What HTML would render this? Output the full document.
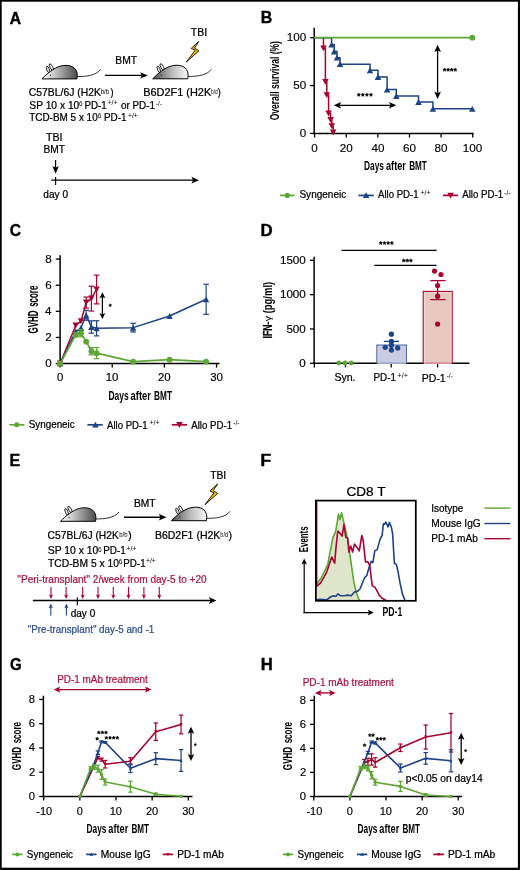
<!DOCTYPE html>
<html><head><meta charset="utf-8"><title>Figure</title>
<style>
html,body{margin:0;padding:0;background:#fff;}
svg{display:block;font-family:"Liberation Sans", sans-serif;will-change:transform;filter:blur(0.5px);}
</style></head>
<body>
<svg xmlns="http://www.w3.org/2000/svg" width="520" height="870" viewBox="0 0 520 870">
<defs>
<linearGradient id="gl" x1="0" y1="0" x2="1" y2="0"><stop offset="0" stop-color="#ffffff"/><stop offset="0.35" stop-color="#c8c8c8"/><stop offset="1" stop-color="#4a4a4a"/></linearGradient>
<linearGradient id="gd" x1="0" y1="0" x2="1" y2="0"><stop offset="0" stop-color="#505050"/><stop offset="0.55" stop-color="#bdbdbd"/><stop offset="1" stop-color="#f8f8f8"/></linearGradient>
</defs>
<rect x="0" y="0" width="520" height="870" fill="#fff"/>
<g transform="translate(41.90,78.90)">
<path d="M34.6,-2.4 C44,-2.2 54,-3.2 58.6,-9.4" fill="none" stroke="#000" stroke-width="0.8"/>
<ellipse cx="6.1" cy="-9.4" rx="1.3" ry="3.5" transform="rotate(-22 6.1 -9.4)" fill="#e4e4e4" stroke="#000" stroke-width="0.75"/>
<ellipse cx="9.5" cy="-11.7" rx="1.35" ry="3.8" transform="rotate(-29 9.5 -11.7)" fill="#eeeeee" stroke="#000" stroke-width="0.75"/>
<path d="M0,0 C5,-5 12,-11.2 19,-12.9 C26,-14.6 33,-13 34.9,-7 C35.6,-4.5 35.4,-2 35,0 Z" fill="url(#gl)" stroke="#000" stroke-width="1.0"/>
<circle cx="8.60" cy="-3.70" r="0.55" fill="#000"/>
</g>
<g transform="translate(152.70,78.80)">
<path d="M34.6,-2.4 C44,-2.2 54,-3.2 58.6,-9.4" fill="none" stroke="#000" stroke-width="0.8"/>
<ellipse cx="6.1" cy="-9.4" rx="1.3" ry="3.5" transform="rotate(-22 6.1 -9.4)" fill="#e4e4e4" stroke="#000" stroke-width="0.75"/>
<ellipse cx="9.5" cy="-11.7" rx="1.35" ry="3.8" transform="rotate(-29 9.5 -11.7)" fill="#eeeeee" stroke="#000" stroke-width="0.75"/>
<path d="M0,0 C5,-5 12,-11.2 19,-12.9 C26,-14.6 33,-13 34.9,-7 C35.6,-4.5 35.4,-2 35,0 Z" fill="url(#gd)" stroke="#000" stroke-width="1.0"/>
<circle cx="8.60" cy="-3.70" r="0.55" fill="#000"/>
</g>
<line x1="104.80" y1="75.40" x2="143.32" y2="75.40" stroke="#000" stroke-width="1.4"/>
<path d="M148.00,75.40 L140.20,72.20 L141.92,75.40 L140.20,78.60 Z" fill="#000" stroke="none" stroke-width="1.0"/>
<text x="115.25" y="63.80" font-size="10.3" stroke="#000" stroke-width="0.24" textLength="21.78" lengthAdjust="spacingAndGlyphs">BMT</text>
<text x="190.76" y="35.90" font-size="10.0" stroke="#000" stroke-width="0.24" textLength="16.30" lengthAdjust="spacingAndGlyphs">TBI</text>
<path d="M198.80,41.30 L194.60,48.00 L198.90,50.90 L186.20,62.10 L195.20,50.20 L191.20,48.40 Z" fill="#f7b800" stroke="#000" stroke-width="0.85" stroke-linejoin="miter" stroke-miterlimit="6"/>
<text x="28.87" y="96.00" font-size="10.2" stroke="#000" stroke-width="0.24" textLength="71.94" lengthAdjust="spacingAndGlyphs">C57BL/6J (H2K</text>
<text x="100.70" y="94.40" font-size="6.4" textLength="8.56" lengthAdjust="spacingAndGlyphs">b/b</text>
<text x="110.55" y="96.00" font-size="10.2" stroke="#000" stroke-width="0.24" textLength="3.01" lengthAdjust="spacingAndGlyphs">)</text>
<text x="143.20" y="96.10" font-size="10.2" stroke="#000" stroke-width="0.24" textLength="68.02" lengthAdjust="spacingAndGlyphs">B6D2F1 (H2K</text>
<text x="211.10" y="94.40" font-size="6.4" textLength="6.50" lengthAdjust="spacingAndGlyphs">b/d</text>
<text x="217.75" y="96.10" font-size="10.2" stroke="#000" stroke-width="0.24" textLength="3.01" lengthAdjust="spacingAndGlyphs">)</text>
<text x="29.34" y="108.50" font-size="10.2" stroke="#000" stroke-width="0.24" textLength="49.96" lengthAdjust="spacingAndGlyphs">SP 10 x 10</text>
<text x="79.07" y="105.70" font-size="6.4" textLength="3.62" lengthAdjust="spacingAndGlyphs">6</text>
<text x="84.50" y="108.50" font-size="10.2" stroke="#000" stroke-width="0.24" textLength="22.28" lengthAdjust="spacingAndGlyphs">PD-1</text>
<text x="107.46" y="105.30" font-size="6.4" textLength="10.19" lengthAdjust="spacingAndGlyphs">+/+</text>
<text x="120.88" y="108.50" font-size="10.2" stroke="#000" stroke-width="0.24" textLength="34.10" lengthAdjust="spacingAndGlyphs">or PD-1</text>
<text x="155.91" y="105.70" font-size="6.4" textLength="6.07" lengthAdjust="spacingAndGlyphs">-/-</text>
<text x="29.18" y="121.00" font-size="10.2" stroke="#000" stroke-width="0.24" textLength="68.51" lengthAdjust="spacingAndGlyphs">TCD-BM 5 x 10</text>
<text x="97.87" y="118.20" font-size="6.4" textLength="3.62" lengthAdjust="spacingAndGlyphs">6</text>
<text x="103.99" y="121.00" font-size="10.2" stroke="#000" stroke-width="0.24" textLength="22.49" lengthAdjust="spacingAndGlyphs">PD-1</text>
<text x="127.97" y="117.80" font-size="6.4" textLength="9.87" lengthAdjust="spacingAndGlyphs">+/+</text>
<text x="45.96" y="140.70" font-size="10.4" stroke="#000" stroke-width="0.24" textLength="16.52" lengthAdjust="spacingAndGlyphs">TBI</text>
<text x="43.46" y="153.10" font-size="10.4" stroke="#000" stroke-width="0.24" textLength="21.57" lengthAdjust="spacingAndGlyphs">BMT</text>
<line x1="55.60" y1="160.10" x2="55.60" y2="169.12" stroke="#000" stroke-width="1.15"/>
<path d="M55.60,173.80 L52.40,166.00 L55.60,167.72 L58.80,166.00 Z" fill="#000" stroke="none" stroke-width="1.0"/>
<line x1="51.30" y1="180.20" x2="194.40" y2="180.20" stroke="#000" stroke-width="1.3"/>
<path d="M198.90,180.20 L191.40,176.80 L193.05,180.20 L191.40,183.60 Z" fill="#000" stroke="none" stroke-width="1.0"/>
<line x1="55.60" y1="176.90" x2="55.60" y2="184.90" stroke="#000" stroke-width="1.15"/>
<text x="43.33" y="198.00" font-size="10.0" stroke="#000" stroke-width="0.24" textLength="24.67" lengthAdjust="spacingAndGlyphs">day 0</text>
<line x1="314.20" y1="27.80" x2="314.20" y2="134.20" stroke="#000" stroke-width="1.5"/>
<line x1="313.45" y1="133.50" x2="473.60" y2="133.50" stroke="#000" stroke-width="1.5"/>
<line x1="310.10" y1="37.70" x2="314.20" y2="37.70" stroke="#000" stroke-width="1.3"/>
<text x="286.80" y="41.45" font-size="11.0" stroke="#000" stroke-width="0.15" textLength="19.45" lengthAdjust="spacingAndGlyphs">100</text>
<line x1="310.10" y1="85.55" x2="314.20" y2="85.55" stroke="#000" stroke-width="1.3"/>
<text x="293.29" y="89.30" font-size="11.0" stroke="#000" stroke-width="0.15" textLength="12.97" lengthAdjust="spacingAndGlyphs">50</text>
<line x1="310.10" y1="133.40" x2="314.20" y2="133.40" stroke="#000" stroke-width="1.3"/>
<text x="299.77" y="137.15" font-size="11.0" stroke="#000" stroke-width="0.15" textLength="6.48" lengthAdjust="spacingAndGlyphs">0</text>
<line x1="314.60" y1="133.50" x2="314.60" y2="137.50" stroke="#000" stroke-width="1.3"/>
<text x="311.36" y="151.50" font-size="11.0" stroke="#000" stroke-width="0.15" textLength="6.48" lengthAdjust="spacingAndGlyphs">0</text>
<line x1="346.22" y1="133.50" x2="346.22" y2="137.50" stroke="#000" stroke-width="1.3"/>
<text x="339.67" y="151.50" font-size="11.0" stroke="#000" stroke-width="0.15" textLength="12.97" lengthAdjust="spacingAndGlyphs">20</text>
<line x1="377.84" y1="133.50" x2="377.84" y2="137.50" stroke="#000" stroke-width="1.3"/>
<text x="371.45" y="151.50" font-size="11.0" stroke="#000" stroke-width="0.15" textLength="12.97" lengthAdjust="spacingAndGlyphs">40</text>
<line x1="409.46" y1="133.50" x2="409.46" y2="137.50" stroke="#000" stroke-width="1.3"/>
<text x="402.91" y="151.50" font-size="11.0" stroke="#000" stroke-width="0.15" textLength="12.97" lengthAdjust="spacingAndGlyphs">60</text>
<line x1="441.08" y1="133.50" x2="441.08" y2="137.50" stroke="#000" stroke-width="1.3"/>
<text x="434.57" y="151.50" font-size="11.0" stroke="#000" stroke-width="0.15" textLength="12.97" lengthAdjust="spacingAndGlyphs">80</text>
<line x1="472.70" y1="133.50" x2="472.70" y2="137.50" stroke="#000" stroke-width="1.3"/>
<text x="462.76" y="151.50" font-size="11.0" stroke="#000" stroke-width="0.15" textLength="19.45" lengthAdjust="spacingAndGlyphs">100</text>
<text transform="translate(278.70,120.00) rotate(-90)" x="-0.35" y="0" font-size="13.0" font-weight="bold" textLength="79.28" lengthAdjust="spacingAndGlyphs">Overall survival (%)</text>
<text x="364.04" y="169.70" font-size="13.0" font-weight="bold" textLength="19.90" lengthAdjust="spacingAndGlyphs">Days</text>
<text x="385.94" y="169.70" font-size="13.0" font-weight="bold" textLength="19.97" lengthAdjust="spacingAndGlyphs">after</text>
<text x="409.14" y="169.70" font-size="13.0" font-weight="bold" textLength="17.65" lengthAdjust="spacingAndGlyphs">BMT</text>
<path d="M314.2,37.7 H331.6 V44.6 H334.2 V51.5 H337.0 V57.7 H340.0 V64.2 H370.0 V70.3 H378.0 V77.0 H387.1 V89.6 H396.3 V96.0 H418.5 V102.0 H432.9 V108.8 H472.3" fill="none" stroke="#1d4286" stroke-width="1.5"/>
<path d="M328.30,47.50 L331.60,41.70 L334.90,47.50 Z" fill="#1d4286" stroke="none" stroke-width="1.0"/>
<path d="M330.90,54.40 L334.20,48.60 L337.50,54.40 Z" fill="#1d4286" stroke="none" stroke-width="1.0"/>
<path d="M333.70,60.60 L337.00,54.80 L340.30,60.60 Z" fill="#1d4286" stroke="none" stroke-width="1.0"/>
<path d="M336.70,67.10 L340.00,61.30 L343.30,67.10 Z" fill="#1d4286" stroke="none" stroke-width="1.0"/>
<path d="M366.70,73.20 L370.00,67.40 L373.30,73.20 Z" fill="#1d4286" stroke="none" stroke-width="1.0"/>
<path d="M374.70,79.90 L378.00,74.10 L381.30,79.90 Z" fill="#1d4286" stroke="none" stroke-width="1.0"/>
<path d="M383.80,92.50 L387.10,86.70 L390.40,92.50 Z" fill="#1d4286" stroke="none" stroke-width="1.0"/>
<path d="M393.00,98.90 L396.30,93.10 L399.60,98.90 Z" fill="#1d4286" stroke="none" stroke-width="1.0"/>
<path d="M415.20,104.90 L418.50,99.10 L421.80,104.90 Z" fill="#1d4286" stroke="none" stroke-width="1.0"/>
<path d="M429.60,111.70 L432.90,105.90 L436.20,111.70 Z" fill="#1d4286" stroke="none" stroke-width="1.0"/>
<path d="M469.00,111.70 L472.30,105.90 L475.60,111.70 Z" fill="#1d4286" stroke="none" stroke-width="1.0"/>
<path d="M323.5,37.7 H323.5 V48.4 H325.4 V81.9 H326.8 V95.2 H328.6 V113.5 H330.6 V119.9 H331.8 V126.2 H333.2 V132.5" fill="none" stroke="#a9032f" stroke-width="1.5"/>
<path d="M320.20,45.50 L323.50,51.30 L326.80,45.50 Z" fill="#a9032f" stroke="none" stroke-width="1.0"/>
<path d="M322.10,79.00 L325.40,84.80 L328.70,79.00 Z" fill="#a9032f" stroke="none" stroke-width="1.0"/>
<path d="M323.50,92.30 L326.80,98.10 L330.10,92.30 Z" fill="#a9032f" stroke="none" stroke-width="1.0"/>
<path d="M325.30,110.60 L328.60,116.40 L331.90,110.60 Z" fill="#a9032f" stroke="none" stroke-width="1.0"/>
<path d="M327.30,117.00 L330.60,122.80 L333.90,117.00 Z" fill="#a9032f" stroke="none" stroke-width="1.0"/>
<path d="M328.50,123.30 L331.80,129.10 L335.10,123.30 Z" fill="#a9032f" stroke="none" stroke-width="1.0"/>
<path d="M329.90,129.60 L333.20,135.40 L336.50,129.60 Z" fill="#a9032f" stroke="none" stroke-width="1.0"/>
<line x1="314.20" y1="37.70" x2="472.30" y2="37.70" stroke="#5ea633" stroke-width="1.7"/>
<circle cx="472.30" cy="37.70" r="2.9" fill="#5ea633"/>
<line x1="338.18" y1="105.30" x2="391.92" y2="105.30" stroke="#000" stroke-width="1.3"/>
<path d="M396.30,105.30 L389.00,102.00 L390.61,105.30 L389.00,108.60 Z" fill="#000" stroke="none" stroke-width="1.0"/>
<path d="M333.80,105.30 L341.10,102.00 L339.49,105.30 L341.10,108.60 Z" fill="#000" stroke="none" stroke-width="1.0"/>
<polygon points="358.75,92.95 359.29,94.05 360.51,94.23 359.63,95.09 359.84,96.30 358.75,95.72 357.66,96.30 357.87,95.09 356.99,94.23 358.21,94.05" fill="#000" stroke="#000" stroke-width="0.45" stroke-linejoin="round"/>
<polygon points="362.82,92.95 363.36,94.05 364.58,94.23 363.70,95.09 363.90,96.30 362.82,95.72 361.73,96.30 361.94,95.09 361.06,94.23 362.27,94.05" fill="#000" stroke="#000" stroke-width="0.45" stroke-linejoin="round"/>
<polygon points="366.88,92.95 367.43,94.05 368.64,94.23 367.76,95.09 367.97,96.30 366.88,95.72 365.80,96.30 366.00,95.09 365.12,94.23 366.34,94.05" fill="#000" stroke="#000" stroke-width="0.45" stroke-linejoin="round"/>
<polygon points="370.95,92.95 371.49,94.05 372.71,94.23 371.83,95.09 372.04,96.30 370.95,95.72 369.86,96.30 370.07,95.09 369.19,94.23 370.41,94.05" fill="#000" stroke="#000" stroke-width="0.45" stroke-linejoin="round"/>
<line x1="437.60" y1="49.18" x2="437.60" y2="94.52" stroke="#000" stroke-width="1.3"/>
<path d="M437.60,98.90 L434.20,91.60 L437.60,93.21 L441.00,91.60 Z" fill="#000" stroke="none" stroke-width="1.0"/>
<path d="M437.60,44.80 L434.20,52.10 L437.60,50.49 L441.00,52.10 Z" fill="#000" stroke="none" stroke-width="1.0"/>
<polygon points="444.55,67.95 445.09,69.05 446.31,69.23 445.43,70.09 445.64,71.30 444.55,70.72 443.46,71.30 443.67,70.09 442.79,69.23 444.01,69.05" fill="#000" stroke="#000" stroke-width="0.45" stroke-linejoin="round"/>
<polygon points="448.12,67.95 448.66,69.05 449.88,69.23 449.00,70.09 449.20,71.30 448.12,70.72 447.03,71.30 447.24,70.09 446.36,69.23 447.57,69.05" fill="#000" stroke="#000" stroke-width="0.45" stroke-linejoin="round"/>
<polygon points="451.68,67.95 452.23,69.05 453.44,69.23 452.56,70.09 452.77,71.30 451.68,70.72 450.60,71.30 450.80,70.09 449.92,69.23 451.14,69.05" fill="#000" stroke="#000" stroke-width="0.45" stroke-linejoin="round"/>
<polygon points="455.25,67.95 455.79,69.05 457.01,69.23 456.13,70.09 456.34,71.30 455.25,70.72 454.16,71.30 454.37,70.09 453.49,69.23 454.71,69.05" fill="#000" stroke="#000" stroke-width="0.45" stroke-linejoin="round"/>
<line x1="280.00" y1="195.40" x2="294.60" y2="195.40" stroke="#5ea633" stroke-width="1.7"/>
<circle cx="287.30" cy="195.40" r="2.6" fill="#5ea633"/>
<text x="299.44" y="198.00" font-size="10.4" stroke="#000" stroke-width="0.24" textLength="46.82" lengthAdjust="spacingAndGlyphs">Syngeneic</text>
<line x1="358.40" y1="195.40" x2="373.80" y2="195.40" stroke="#1d4286" stroke-width="1.7"/>
<path d="M362.80,198.10 L366.10,192.30 L369.40,198.10 Z" fill="#1d4286" stroke="none" stroke-width="1.0"/>
<text x="378.08" y="198.30" font-size="10.4" stroke="#000" stroke-width="0.24" textLength="40.49" lengthAdjust="spacingAndGlyphs">Allo PD-1</text>
<text x="420.45" y="194.50" font-size="6.4" textLength="10.30" lengthAdjust="spacingAndGlyphs">+/+</text>
<line x1="442.90" y1="195.40" x2="458.00" y2="195.40" stroke="#a9032f" stroke-width="1.7"/>
<path d="M447.30,192.70 L450.60,198.50 L453.90,192.70 Z" fill="#a9032f" stroke="none" stroke-width="1.0"/>
<text x="462.28" y="198.30" font-size="10.4" stroke="#000" stroke-width="0.24" textLength="40.79" lengthAdjust="spacingAndGlyphs">Allo PD-1</text>
<text x="504.20" y="194.50" font-size="6.4" textLength="6.40" lengthAdjust="spacingAndGlyphs">-/-</text>
<line x1="60.10" y1="255.30" x2="60.10" y2="364.30" stroke="#000" stroke-width="1.5"/>
<line x1="59.35" y1="363.60" x2="219.60" y2="363.60" stroke="#000" stroke-width="1.5"/>
<line x1="55.80" y1="363.60" x2="60.10" y2="363.60" stroke="#000" stroke-width="1.3"/>
<text x="45.17" y="367.15" font-size="10.6" stroke="#000" stroke-width="0.15" textLength="6.48" lengthAdjust="spacingAndGlyphs">0</text>
<line x1="55.80" y1="337.46" x2="60.10" y2="337.46" stroke="#000" stroke-width="1.3"/>
<text x="45.30" y="341.01" font-size="10.6" stroke="#000" stroke-width="0.15" textLength="6.48" lengthAdjust="spacingAndGlyphs">2</text>
<line x1="55.80" y1="311.32" x2="60.10" y2="311.32" stroke="#000" stroke-width="1.3"/>
<text x="45.06" y="314.87" font-size="10.6" stroke="#000" stroke-width="0.15" textLength="6.48" lengthAdjust="spacingAndGlyphs">4</text>
<line x1="55.80" y1="285.18" x2="60.10" y2="285.18" stroke="#000" stroke-width="1.3"/>
<text x="45.23" y="288.73" font-size="10.6" stroke="#000" stroke-width="0.15" textLength="6.48" lengthAdjust="spacingAndGlyphs">6</text>
<line x1="55.80" y1="259.04" x2="60.10" y2="259.04" stroke="#000" stroke-width="1.3"/>
<text x="45.22" y="262.59" font-size="10.6" stroke="#000" stroke-width="0.15" textLength="6.48" lengthAdjust="spacingAndGlyphs">8</text>
<line x1="60.10" y1="363.60" x2="60.10" y2="367.60" stroke="#000" stroke-width="1.3"/>
<text x="56.92" y="381.40" font-size="10.6" stroke="#000" stroke-width="0.15" textLength="6.37" lengthAdjust="spacingAndGlyphs">0</text>
<line x1="112.25" y1="363.60" x2="112.25" y2="367.60" stroke="#000" stroke-width="1.3"/>
<text x="105.67" y="381.40" font-size="10.6" stroke="#000" stroke-width="0.15" textLength="12.73" lengthAdjust="spacingAndGlyphs">10</text>
<line x1="164.40" y1="363.60" x2="164.40" y2="367.60" stroke="#000" stroke-width="1.3"/>
<text x="157.97" y="381.40" font-size="10.6" stroke="#000" stroke-width="0.15" textLength="12.73" lengthAdjust="spacingAndGlyphs">20</text>
<line x1="216.55" y1="363.60" x2="216.55" y2="367.60" stroke="#000" stroke-width="1.3"/>
<text x="210.19" y="381.40" font-size="10.6" stroke="#000" stroke-width="0.15" textLength="12.73" lengthAdjust="spacingAndGlyphs">30</text>
<text transform="translate(38.00,333.10) rotate(-90)" x="-0.33" y="0" font-size="14.0" font-weight="bold" textLength="23.06" lengthAdjust="spacingAndGlyphs">GVHD</text>
<text transform="translate(38.00,306.60) rotate(-90)" x="-0.28" y="0" font-size="14.0" font-weight="bold" textLength="21.25" lengthAdjust="spacingAndGlyphs">score</text>
<text x="108.44" y="399.80" font-size="13.4" font-weight="bold" textLength="20.16" lengthAdjust="spacingAndGlyphs">Days</text>
<text x="130.62" y="399.80" font-size="13.4" font-weight="bold" textLength="20.23" lengthAdjust="spacingAndGlyphs">after</text>
<text x="154.11" y="399.80" font-size="13.4" font-weight="bold" textLength="17.88" lengthAdjust="spacingAndGlyphs">BMT</text>
<path d="M60.10,363.60 L75.75,325.44 L80.96,321.25 L86.17,302.56 L91.39,298.64 L96.60,289.49" fill="none" stroke="#a9032f" stroke-width="1.5" stroke-linejoin="round"/>
<line x1="86.17" y1="297.07" x2="86.17" y2="308.05" stroke="#a9032f" stroke-width="1.2"/>
<line x1="83.38" y1="297.07" x2="88.97" y2="297.07" stroke="#a9032f" stroke-width="1.2"/>
<line x1="83.38" y1="308.05" x2="88.97" y2="308.05" stroke="#a9032f" stroke-width="1.2"/>
<line x1="91.39" y1="286.23" x2="91.39" y2="311.06" stroke="#a9032f" stroke-width="1.2"/>
<line x1="88.59" y1="286.23" x2="94.19" y2="286.23" stroke="#a9032f" stroke-width="1.2"/>
<line x1="88.59" y1="311.06" x2="94.19" y2="311.06" stroke="#a9032f" stroke-width="1.2"/>
<line x1="96.60" y1="275.12" x2="96.60" y2="303.87" stroke="#a9032f" stroke-width="1.2"/>
<line x1="93.80" y1="275.12" x2="99.40" y2="275.12" stroke="#a9032f" stroke-width="1.2"/>
<line x1="93.80" y1="303.87" x2="99.40" y2="303.87" stroke="#a9032f" stroke-width="1.2"/>
<path d="M56.94,360.58 L60.10,366.62 L63.26,360.58 Z" fill="#a9032f" stroke="none" stroke-width="1.0"/>
<path d="M72.58,322.41 L75.75,328.46 L78.91,322.41 Z" fill="#a9032f" stroke="none" stroke-width="1.0"/>
<path d="M77.80,318.23 L80.96,324.28 L84.12,318.23 Z" fill="#a9032f" stroke="none" stroke-width="1.0"/>
<path d="M83.01,299.54 L86.17,305.59 L89.34,299.54 Z" fill="#a9032f" stroke="none" stroke-width="1.0"/>
<path d="M88.23,295.62 L91.39,301.67 L94.55,295.62 Z" fill="#a9032f" stroke="none" stroke-width="1.0"/>
<path d="M93.44,286.47 L96.60,292.52 L99.77,286.47 Z" fill="#a9032f" stroke="none" stroke-width="1.0"/>
<path d="M60.10,363.60 L75.75,331.58 L80.96,328.05 L86.17,315.24 L91.39,327.00 L96.60,328.31 L133.11,327.66 L169.62,316.03 L206.12,299.30" fill="none" stroke="#1d4286" stroke-width="1.5" stroke-linejoin="round"/>
<line x1="86.17" y1="310.27" x2="86.17" y2="320.21" stroke="#1d4286" stroke-width="1.2"/>
<line x1="83.38" y1="310.27" x2="88.97" y2="310.27" stroke="#1d4286" stroke-width="1.2"/>
<line x1="83.38" y1="320.21" x2="88.97" y2="320.21" stroke="#1d4286" stroke-width="1.2"/>
<line x1="91.39" y1="320.86" x2="91.39" y2="333.15" stroke="#1d4286" stroke-width="1.2"/>
<line x1="88.59" y1="320.86" x2="94.19" y2="320.86" stroke="#1d4286" stroke-width="1.2"/>
<line x1="88.59" y1="333.15" x2="94.19" y2="333.15" stroke="#1d4286" stroke-width="1.2"/>
<line x1="96.60" y1="320.73" x2="96.60" y2="335.89" stroke="#1d4286" stroke-width="1.2"/>
<line x1="93.80" y1="320.73" x2="99.40" y2="320.73" stroke="#1d4286" stroke-width="1.2"/>
<line x1="93.80" y1="335.89" x2="99.40" y2="335.89" stroke="#1d4286" stroke-width="1.2"/>
<line x1="133.11" y1="323.34" x2="133.11" y2="331.97" stroke="#1d4286" stroke-width="1.2"/>
<line x1="130.31" y1="323.34" x2="135.91" y2="323.34" stroke="#1d4286" stroke-width="1.2"/>
<line x1="130.31" y1="331.97" x2="135.91" y2="331.97" stroke="#1d4286" stroke-width="1.2"/>
<line x1="206.12" y1="284.27" x2="206.12" y2="314.33" stroke="#1d4286" stroke-width="1.2"/>
<line x1="203.32" y1="284.27" x2="208.92" y2="284.27" stroke="#1d4286" stroke-width="1.2"/>
<line x1="203.32" y1="314.33" x2="208.92" y2="314.33" stroke="#1d4286" stroke-width="1.2"/>
<path d="M56.94,366.62 L60.10,360.58 L63.26,366.62 Z" fill="#1d4286" stroke="none" stroke-width="1.0"/>
<path d="M72.58,334.60 L75.75,328.55 L78.91,334.60 Z" fill="#1d4286" stroke="none" stroke-width="1.0"/>
<path d="M77.80,331.07 L80.96,325.02 L84.12,331.07 Z" fill="#1d4286" stroke="none" stroke-width="1.0"/>
<path d="M83.01,318.27 L86.17,312.22 L89.34,318.27 Z" fill="#1d4286" stroke="none" stroke-width="1.0"/>
<path d="M88.23,330.03 L91.39,323.98 L94.55,330.03 Z" fill="#1d4286" stroke="none" stroke-width="1.0"/>
<path d="M93.44,331.34 L96.60,325.29 L99.77,331.34 Z" fill="#1d4286" stroke="none" stroke-width="1.0"/>
<path d="M129.95,330.68 L133.11,324.63 L136.27,330.68 Z" fill="#1d4286" stroke="none" stroke-width="1.0"/>
<path d="M166.45,319.05 L169.62,313.00 L172.78,319.05 Z" fill="#1d4286" stroke="none" stroke-width="1.0"/>
<path d="M202.96,302.32 L206.12,296.27 L209.28,302.32 Z" fill="#1d4286" stroke="none" stroke-width="1.0"/>
<path d="M60.10,363.60 L75.75,334.85 L80.96,333.15 L86.17,341.64 L91.39,351.18 L96.60,353.14 L133.11,361.64 L169.62,359.68 L206.12,361.64" fill="none" stroke="#5ea633" stroke-width="1.7" stroke-linejoin="round"/>
<line x1="75.75" y1="332.89" x2="75.75" y2="336.81" stroke="#5ea633" stroke-width="1.2"/>
<line x1="72.95" y1="332.89" x2="78.55" y2="332.89" stroke="#5ea633" stroke-width="1.2"/>
<line x1="72.95" y1="336.81" x2="78.55" y2="336.81" stroke="#5ea633" stroke-width="1.2"/>
<line x1="80.96" y1="329.49" x2="80.96" y2="336.81" stroke="#5ea633" stroke-width="1.2"/>
<line x1="78.16" y1="329.49" x2="83.76" y2="329.49" stroke="#5ea633" stroke-width="1.2"/>
<line x1="78.16" y1="336.81" x2="83.76" y2="336.81" stroke="#5ea633" stroke-width="1.2"/>
<line x1="91.39" y1="347.52" x2="91.39" y2="354.84" stroke="#5ea633" stroke-width="1.2"/>
<line x1="88.59" y1="347.52" x2="94.19" y2="347.52" stroke="#5ea633" stroke-width="1.2"/>
<line x1="88.59" y1="354.84" x2="94.19" y2="354.84" stroke="#5ea633" stroke-width="1.2"/>
<line x1="96.60" y1="347.65" x2="96.60" y2="358.63" stroke="#5ea633" stroke-width="1.2"/>
<line x1="93.80" y1="347.65" x2="99.40" y2="347.65" stroke="#5ea633" stroke-width="1.2"/>
<line x1="93.80" y1="358.63" x2="99.40" y2="358.63" stroke="#5ea633" stroke-width="1.2"/>
<circle cx="60.10" cy="363.60" r="2.9" fill="#5ea633"/>
<circle cx="75.75" cy="334.85" r="2.9" fill="#5ea633"/>
<circle cx="80.96" cy="333.15" r="2.9" fill="#5ea633"/>
<circle cx="86.17" cy="341.64" r="2.9" fill="#5ea633"/>
<circle cx="91.39" cy="351.18" r="2.9" fill="#5ea633"/>
<circle cx="96.60" cy="353.14" r="2.9" fill="#5ea633"/>
<circle cx="133.11" cy="361.64" r="2.9" fill="#5ea633"/>
<circle cx="169.62" cy="359.68" r="2.9" fill="#5ea633"/>
<circle cx="206.12" cy="361.64" r="2.9" fill="#5ea633"/>
<line x1="102.40" y1="295.80" x2="102.40" y2="315.50" stroke="#000" stroke-width="1.2"/>
<path d="M102.40,319.10 L99.50,313.10 L102.40,314.42 L105.30,313.10 Z" fill="#000" stroke="none" stroke-width="1.0"/>
<path d="M102.40,292.20 L99.50,298.20 L102.40,296.88 L105.30,298.20 Z" fill="#000" stroke="none" stroke-width="1.0"/>
<polygon points="110.20,303.70 110.67,304.65 111.72,304.81 110.96,305.55 111.14,306.59 110.20,306.10 109.26,306.59 109.44,305.55 108.68,304.81 109.73,304.65" fill="#000" stroke="#000" stroke-width="0.45" stroke-linejoin="round"/>
<line x1="9.40" y1="424.80" x2="24.50" y2="424.80" stroke="#5ea633" stroke-width="1.7"/>
<circle cx="16.80" cy="424.80" r="2.5" fill="#5ea633"/>
<text x="28.65" y="428.40" font-size="10.4" stroke="#000" stroke-width="0.24" textLength="46.11" lengthAdjust="spacingAndGlyphs">Syngeneic</text>
<line x1="87.40" y1="424.80" x2="102.80" y2="424.80" stroke="#1d4286" stroke-width="1.7"/>
<path d="M92.10,427.50 L95.40,421.70 L98.70,427.50 Z" fill="#1d4286" stroke="none" stroke-width="1.0"/>
<text x="107.08" y="428.60" font-size="10.4" stroke="#000" stroke-width="0.24" textLength="40.49" lengthAdjust="spacingAndGlyphs">Allo PD-1</text>
<text x="149.45" y="424.80" font-size="6.4" textLength="10.30" lengthAdjust="spacingAndGlyphs">+/+</text>
<line x1="171.90" y1="424.80" x2="187.00" y2="424.80" stroke="#a9032f" stroke-width="1.7"/>
<path d="M176.20,422.10 L179.50,427.90 L182.80,422.10 Z" fill="#a9032f" stroke="none" stroke-width="1.0"/>
<text x="191.28" y="428.60" font-size="10.4" stroke="#000" stroke-width="0.24" textLength="40.79" lengthAdjust="spacingAndGlyphs">Allo PD-1</text>
<text x="233.20" y="424.80" font-size="6.4" textLength="6.40" lengthAdjust="spacingAndGlyphs">-/-</text>
<line x1="314.10" y1="256.70" x2="314.10" y2="364.00" stroke="#000" stroke-width="1.5"/>
<line x1="313.35" y1="363.30" x2="469.40" y2="363.30" stroke="#000" stroke-width="1.5"/>
<line x1="310.00" y1="363.30" x2="314.10" y2="363.30" stroke="#000" stroke-width="1.3"/>
<text x="299.37" y="366.90" font-size="10.6" stroke="#000" stroke-width="0.15" textLength="6.48" lengthAdjust="spacingAndGlyphs">0</text>
<line x1="310.00" y1="328.98" x2="314.10" y2="328.98" stroke="#000" stroke-width="1.3"/>
<text x="286.40" y="332.58" font-size="10.6" stroke="#000" stroke-width="0.15" textLength="19.45" lengthAdjust="spacingAndGlyphs">500</text>
<line x1="310.00" y1="294.65" x2="314.10" y2="294.65" stroke="#000" stroke-width="1.3"/>
<text x="279.92" y="298.25" font-size="10.6" stroke="#000" stroke-width="0.15" textLength="25.94" lengthAdjust="spacingAndGlyphs">1000</text>
<line x1="310.00" y1="260.32" x2="314.10" y2="260.32" stroke="#000" stroke-width="1.3"/>
<text x="279.92" y="263.93" font-size="10.6" stroke="#000" stroke-width="0.15" textLength="25.94" lengthAdjust="spacingAndGlyphs">1500</text>
<line x1="314.30" y1="363.30" x2="314.30" y2="367.40" stroke="#000" stroke-width="1.3"/>
<line x1="345.50" y1="363.30" x2="345.50" y2="367.40" stroke="#000" stroke-width="1.3"/>
<line x1="391.20" y1="363.30" x2="391.20" y2="367.40" stroke="#000" stroke-width="1.3"/>
<line x1="437.60" y1="363.30" x2="437.60" y2="367.40" stroke="#000" stroke-width="1.3"/>
<text transform="translate(272.00,337.90) rotate(-90)" x="-0.58" y="0" font-size="13.6" font-weight="bold" stroke="#000" stroke-width="0.15" textLength="14.07" lengthAdjust="spacingAndGlyphs">IFN</text>
<line x1="268.30" y1="324.50" x2="268.30" y2="321.70" stroke="#000" stroke-width="1.3"/>
<text transform="translate(271.00,321.20) rotate(-90)" x="-0.04" y="0" font-size="8.4" stroke="#000" stroke-width="0.1" textLength="5.37" lengthAdjust="spacingAndGlyphs">γ</text>
<text transform="translate(271.50,312.90) rotate(-90)" x="-0.47" y="0" font-size="12.6" font-weight="bold" textLength="31.54" lengthAdjust="spacingAndGlyphs">(pg/ml)</text>
<circle cx="338.80" cy="363.00" r="2.4" fill="#5ea633"/>
<circle cx="345.00" cy="363.00" r="2.4" fill="#5ea633"/>
<circle cx="351.20" cy="363.00" r="2.4" fill="#5ea633"/>
<rect x="376.9" y="345.1" width="29.4" height="18.2" fill="#c9cbe0" stroke="#3a5a98" stroke-width="1.1"/>
<rect x="378.0" y="346.2" width="27.2" height="17.1" fill="none" stroke="#d9d9ea" stroke-width="0.7"/>
<line x1="391.40" y1="341.40" x2="391.40" y2="348.00" stroke="#1d4286" stroke-width="1.2"/>
<line x1="383.80" y1="341.40" x2="399.00" y2="341.40" stroke="#1d4286" stroke-width="1.3"/>
<circle cx="391.40" cy="334.20" r="2.6" fill="#1d4286"/>
<circle cx="391.40" cy="341.40" r="2.6" fill="#1d4286"/>
<circle cx="391.40" cy="345.20" r="2.6" fill="#1d4286"/>
<circle cx="385.20" cy="347.30" r="2.6" fill="#1d4286"/>
<circle cx="397.70" cy="347.90" r="2.6" fill="#1d4286"/>
<circle cx="391.40" cy="350.10" r="2.6" fill="#1d4286"/>
<rect x="423.2" y="291.4" width="29.0" height="71.9" fill="#e8c9c0" stroke="#a9032f" stroke-width="1.1"/>
<rect x="424.3" y="292.5" width="26.8" height="70.8" fill="none" stroke="#f2e0da" stroke-width="0.7"/>
<line x1="437.60" y1="280.60" x2="437.60" y2="299.60" stroke="#a9032f" stroke-width="1.2"/>
<line x1="430.30" y1="280.60" x2="445.60" y2="280.60" stroke="#a9032f" stroke-width="1.3"/>
<line x1="430.30" y1="299.60" x2="445.60" y2="299.60" stroke="#a9032f" stroke-width="1.3"/>
<circle cx="434.50" cy="271.10" r="2.6" fill="#a9032f"/>
<circle cx="441.00" cy="274.50" r="2.6" fill="#a9032f"/>
<circle cx="437.60" cy="285.60" r="2.6" fill="#a9032f"/>
<circle cx="437.60" cy="296.20" r="2.6" fill="#a9032f"/>
<circle cx="437.60" cy="324.10" r="2.6" fill="#a9032f"/>
<line x1="341.50" y1="250.40" x2="436.60" y2="250.40" stroke="#000" stroke-width="1.25"/>
<polygon points="380.75,241.15 381.29,242.25 382.51,242.43 381.63,243.29 381.84,244.50 380.75,243.93 379.66,244.50 379.87,243.29 378.99,242.43 380.21,242.25" fill="#000" stroke="#000" stroke-width="0.45" stroke-linejoin="round"/>
<polygon points="384.45,241.15 384.99,242.25 386.21,242.43 385.33,243.29 385.54,244.50 384.45,243.93 383.36,244.50 383.57,243.29 382.69,242.43 383.91,242.25" fill="#000" stroke="#000" stroke-width="0.45" stroke-linejoin="round"/>
<polygon points="388.15,241.15 388.69,242.25 389.91,242.43 389.03,243.29 389.24,244.50 388.15,243.93 387.06,244.50 387.27,243.29 386.39,242.43 387.61,242.25" fill="#000" stroke="#000" stroke-width="0.45" stroke-linejoin="round"/>
<polygon points="391.85,241.15 392.39,242.25 393.61,242.43 392.73,243.29 392.94,244.50 391.85,243.93 390.76,244.50 390.97,243.29 390.09,242.43 391.31,242.25" fill="#000" stroke="#000" stroke-width="0.45" stroke-linejoin="round"/>
<line x1="374.20" y1="265.40" x2="436.60" y2="265.40" stroke="#000" stroke-width="1.25"/>
<polygon points="403.75,258.75 404.29,259.85 405.51,260.03 404.63,260.89 404.84,262.10 403.75,261.53 402.66,262.10 402.87,260.89 401.99,260.03 403.21,259.85" fill="#000" stroke="#000" stroke-width="0.45" stroke-linejoin="round"/>
<polygon points="407.30,258.75 407.84,259.85 409.06,260.03 408.18,260.89 408.39,262.10 407.30,261.53 406.21,262.10 406.42,260.89 405.54,260.03 406.76,259.85" fill="#000" stroke="#000" stroke-width="0.45" stroke-linejoin="round"/>
<polygon points="410.85,258.75 411.39,259.85 412.61,260.03 411.73,260.89 411.94,262.10 410.85,261.53 409.76,262.10 409.97,260.89 409.09,260.03 410.31,259.85" fill="#000" stroke="#000" stroke-width="0.45" stroke-linejoin="round"/>
<text x="334.42" y="381.10" font-size="10.6" stroke="#000" stroke-width="0.24" textLength="21.14" lengthAdjust="spacingAndGlyphs">Syn.</text>
<text x="373.49" y="381.40" font-size="10.6" stroke="#000" stroke-width="0.24" textLength="22.39" lengthAdjust="spacingAndGlyphs">PD-1</text>
<text x="397.34" y="377.60" font-size="6.4" textLength="10.73" lengthAdjust="spacingAndGlyphs">+/+</text>
<text x="421.84" y="381.50" font-size="10.6" stroke="#000" stroke-width="0.24" textLength="23.87" lengthAdjust="spacingAndGlyphs">PD-1</text>
<text x="446.60" y="378.20" font-size="6.4" textLength="6.40" lengthAdjust="spacingAndGlyphs">-/-</text>
<g transform="translate(60.50,521.30)">
<path d="M34.6,-2.4 C44,-2.2 54,-3.2 58.6,-9.4" fill="none" stroke="#000" stroke-width="0.8"/>
<ellipse cx="6.1" cy="-9.4" rx="1.3" ry="3.5" transform="rotate(-22 6.1 -9.4)" fill="#e4e4e4" stroke="#000" stroke-width="0.75"/>
<ellipse cx="9.5" cy="-11.7" rx="1.35" ry="3.8" transform="rotate(-29 9.5 -11.7)" fill="#eeeeee" stroke="#000" stroke-width="0.75"/>
<path d="M0,0 C5,-5 12,-11.2 19,-12.9 C26,-14.6 33,-13 34.9,-7 C35.6,-4.5 35.4,-2 35,0 Z" fill="url(#gl)" stroke="#000" stroke-width="1.0"/>
<circle cx="8.60" cy="-3.70" r="0.55" fill="#000"/>
</g>
<g transform="translate(171.40,520.70)">
<path d="M34.6,-2.4 C44,-2.2 54,-3.2 58.6,-9.4" fill="none" stroke="#000" stroke-width="0.8"/>
<ellipse cx="6.1" cy="-9.4" rx="1.3" ry="3.5" transform="rotate(-22 6.1 -9.4)" fill="#e4e4e4" stroke="#000" stroke-width="0.75"/>
<ellipse cx="9.5" cy="-11.7" rx="1.35" ry="3.8" transform="rotate(-29 9.5 -11.7)" fill="#eeeeee" stroke="#000" stroke-width="0.75"/>
<path d="M0,0 C5,-5 12,-11.2 19,-12.9 C26,-14.6 33,-13 34.9,-7 C35.6,-4.5 35.4,-2 35,0 Z" fill="url(#gd)" stroke="#000" stroke-width="1.0"/>
<circle cx="8.60" cy="-3.70" r="0.55" fill="#000"/>
</g>
<line x1="124.00" y1="517.30" x2="161.92" y2="517.30" stroke="#000" stroke-width="1.4"/>
<path d="M166.60,517.30 L158.80,514.10 L160.52,517.30 L158.80,520.50 Z" fill="#000" stroke="none" stroke-width="1.0"/>
<text x="133.96" y="507.30" font-size="10.3" stroke="#000" stroke-width="0.24" textLength="21.68" lengthAdjust="spacingAndGlyphs">BMT</text>
<text x="210.17" y="479.10" font-size="10.3" stroke="#000" stroke-width="0.24" textLength="15.98" lengthAdjust="spacingAndGlyphs">TBI</text>
<path d="M217.55,483.90 L213.35,490.60 L217.65,493.50 L204.95,504.70 L213.95,492.80 L209.95,491.00 Z" fill="#f7b800" stroke="#000" stroke-width="0.85" stroke-linejoin="miter" stroke-miterlimit="6"/>
<text x="47.58" y="538.70" font-size="10.4" stroke="#000" stroke-width="0.24" textLength="71.24" lengthAdjust="spacingAndGlyphs">C57BL/6J (H2K</text>
<text x="119.21" y="536.90" font-size="6.4" textLength="8.34" lengthAdjust="spacingAndGlyphs">b/b</text>
<text x="128.13" y="538.70" font-size="10.4" stroke="#000" stroke-width="0.24" textLength="3.77" lengthAdjust="spacingAndGlyphs">)</text>
<text x="154.94" y="538.80" font-size="10.4" stroke="#000" stroke-width="0.24" textLength="65.38" lengthAdjust="spacingAndGlyphs">B6D2F1 (H2K</text>
<text x="220.34" y="536.90" font-size="6.4" textLength="7.72" lengthAdjust="spacingAndGlyphs">b/d</text>
<text x="228.44" y="538.80" font-size="10.4" stroke="#000" stroke-width="0.24" textLength="3.52" lengthAdjust="spacingAndGlyphs">)</text>
<text x="47.73" y="554.40" font-size="10.4" stroke="#000" stroke-width="0.24" textLength="50.57" lengthAdjust="spacingAndGlyphs">SP 10 x 10</text>
<text x="97.96" y="551.60" font-size="6.4" textLength="3.74" lengthAdjust="spacingAndGlyphs">6</text>
<text x="103.19" y="554.40" font-size="10.4" stroke="#000" stroke-width="0.24" textLength="22.60" lengthAdjust="spacingAndGlyphs">PD-1</text>
<text x="126.57" y="551.30" font-size="6.4" textLength="9.87" lengthAdjust="spacingAndGlyphs">+/+</text>
<text x="48.07" y="566.50" font-size="10.4" stroke="#000" stroke-width="0.24" textLength="70.83" lengthAdjust="spacingAndGlyphs">TCD-BM 5 x 10</text>
<text x="118.86" y="563.70" font-size="6.4" textLength="3.74" lengthAdjust="spacingAndGlyphs">6</text>
<text x="123.30" y="566.50" font-size="10.4" stroke="#000" stroke-width="0.24" textLength="22.28" lengthAdjust="spacingAndGlyphs">PD-1</text>
<text x="146.07" y="563.40" font-size="6.4" textLength="9.76" lengthAdjust="spacingAndGlyphs">+/+</text>
<text x="17.37" y="582.90" font-size="10.6" fill="#ab1440" stroke="#ab1440" stroke-width="0.24" textLength="189.32" lengthAdjust="spacingAndGlyphs">"Peri-transplant" 2/week from day-5 to +20</text>
<line x1="51.00" y1="586.90" x2="51.00" y2="596.24" stroke="#a9032f" stroke-width="1.1"/>
<path d="M51.00,599.00 L48.90,594.40 L51.00,595.41 L53.10,594.40 Z" fill="#a9032f" stroke="none" stroke-width="1.0"/>
<line x1="66.10" y1="586.90" x2="66.10" y2="596.24" stroke="#a9032f" stroke-width="1.1"/>
<path d="M66.10,599.00 L64.00,594.40 L66.10,595.41 L68.20,594.40 Z" fill="#a9032f" stroke="none" stroke-width="1.0"/>
<line x1="82.70" y1="586.90" x2="82.70" y2="596.24" stroke="#a9032f" stroke-width="1.1"/>
<path d="M82.70,599.00 L80.60,594.40 L82.70,595.41 L84.80,594.40 Z" fill="#a9032f" stroke="none" stroke-width="1.0"/>
<line x1="98.00" y1="586.90" x2="98.00" y2="596.24" stroke="#a9032f" stroke-width="1.1"/>
<path d="M98.00,599.00 L95.90,594.40 L98.00,595.41 L100.10,594.40 Z" fill="#a9032f" stroke="none" stroke-width="1.0"/>
<line x1="113.30" y1="586.90" x2="113.30" y2="596.24" stroke="#a9032f" stroke-width="1.1"/>
<path d="M113.30,599.00 L111.20,594.40 L113.30,595.41 L115.40,594.40 Z" fill="#a9032f" stroke="none" stroke-width="1.0"/>
<line x1="128.50" y1="586.90" x2="128.50" y2="596.24" stroke="#a9032f" stroke-width="1.1"/>
<path d="M128.50,599.00 L126.40,594.40 L128.50,595.41 L130.60,594.40 Z" fill="#a9032f" stroke="none" stroke-width="1.0"/>
<line x1="143.90" y1="586.90" x2="143.90" y2="596.24" stroke="#a9032f" stroke-width="1.1"/>
<path d="M143.90,599.00 L141.80,594.40 L143.90,595.41 L146.00,594.40 Z" fill="#a9032f" stroke="none" stroke-width="1.0"/>
<line x1="159.30" y1="586.90" x2="159.30" y2="596.24" stroke="#a9032f" stroke-width="1.1"/>
<path d="M159.30,599.00 L157.20,594.40 L159.30,595.41 L161.40,594.40 Z" fill="#a9032f" stroke="none" stroke-width="1.0"/>
<line x1="32.90" y1="600.50" x2="211.90" y2="600.50" stroke="#000" stroke-width="1.3"/>
<path d="M216.40,600.50 L208.90,597.10 L210.55,600.50 L208.90,603.90 Z" fill="#000" stroke="none" stroke-width="1.0"/>
<line x1="77.30" y1="597.30" x2="77.30" y2="605.30" stroke="#000" stroke-width="1.15"/>
<line x1="50.80" y1="615.60" x2="50.80" y2="606.36" stroke="#1d4286" stroke-width="1.1"/>
<path d="M50.80,603.60 L48.70,608.20 L50.80,607.19 L52.90,608.20 Z" fill="#1d4286" stroke="none" stroke-width="1.0"/>
<line x1="66.40" y1="615.60" x2="66.40" y2="606.36" stroke="#1d4286" stroke-width="1.1"/>
<path d="M66.40,603.60 L64.30,608.20 L66.40,607.19 L68.50,608.20 Z" fill="#1d4286" stroke="none" stroke-width="1.0"/>
<text x="70.68" y="617.00" font-size="10.3" stroke="#000" stroke-width="0.24" textLength="24.62" lengthAdjust="spacingAndGlyphs">day 0</text>
<text x="27.68" y="632.60" font-size="10.6" fill="#2b4f8f" stroke="#2b4f8f" stroke-width="0.24" textLength="126.60" lengthAdjust="spacingAndGlyphs">"Pre-transplant" day-5 and -1</text>
<text x="346.52" y="496.30" font-size="13.0" stroke="#000" stroke-width="0.24" textLength="38.89" lengthAdjust="spacingAndGlyphs">CD8 T</text>
<text transform="translate(308.20,551.70) rotate(-90)" x="-0.53" y="0" font-size="13.4" font-weight="bold" textLength="25.85" lengthAdjust="spacingAndGlyphs">Events</text>
<line x1="304.20" y1="613.20" x2="304.20" y2="562.20" stroke="#000" stroke-width="1.2"/>
<path d="M304.20,558.60 L301.40,564.60 L304.20,563.28 L307.00,564.60 Z" fill="#000" stroke="none" stroke-width="1.0"/>
<line x1="303.60" y1="612.60" x2="370.20" y2="612.60" stroke="#000" stroke-width="1.2"/>
<path d="M373.80,612.60 L367.80,609.80 L369.12,612.60 L367.80,615.40 Z" fill="#000" stroke="none" stroke-width="1.0"/>
<text x="382.52" y="616.40" font-size="13.4" font-weight="bold" textLength="19.72" lengthAdjust="spacingAndGlyphs">PD-1</text>
<path d="M316.4,600.5 L315.9,585.3 L321.2,577.9 L324.3,571.8 L326.1,568.1 L328.0,563.2 L329.8,553.3 L331.1,547.2 L332.9,537.3 L335.4,532.4 L337.2,522.6 L338.4,514.0 L340.0,519.5 L341.5,512.8 L343.0,518.9 L344.6,526.3 L346.4,533.7 L348.3,543.5 L350.1,555.8 L352.0,569.3 L353.8,581.6 L356.3,592.7 L359.3,600.2 Z" fill="#dfe6cc" stroke="none" stroke-width="1.0"/>
<path d="M315.9,585.3 L321.2,577.9 L324.3,571.8 L326.1,568.1 L328.0,563.2 L329.8,553.3 L331.1,547.2 L332.9,537.3 L335.4,532.4 L337.2,522.6 L338.4,514.0 L340.0,519.5 L341.5,512.8 L343.0,518.9 L344.6,526.3 L346.4,533.7 L348.3,543.5 L350.1,555.8 L352.0,569.3 L353.8,581.6 L356.3,592.7 L359.3,600.2" fill="none" stroke="#5ea633" stroke-width="1.6" stroke-linejoin="round"/>
<path d="M316.3,600.0 L319.4,599.4 L326.8,599.8 L330.4,597.0 L333.5,595.7 L336.0,596.4 L337.8,593.9 L340.3,595.7 L344.0,595.7 L347.7,595.1 L351.3,595.7 L354.4,592.0 L357.5,591.4 L360.0,589.0 L362.5,582.8 L364.9,577.3 L366.8,575.5 L369.2,566.9 L371.1,561.3 L372.9,562.6 L374.8,550.9 L377.2,549.6 L380.3,538.6 L382.1,535.5 L383.4,523.8 L384.6,524.4 L385.8,522.0 L387.0,524.4 L388.0,526.9 L389.5,522.6 L391.4,527.5 L392.6,533.7 L394.4,563.2 L396.3,564.4 L398.1,571.8 L400.0,582.8 L402.4,593.9 L404.9,600.2" fill="none" stroke="#1d4286" stroke-width="1.6" stroke-linejoin="round"/>
<path d="M316.6,502.0 L316.6,586.5 L320.6,582.8 L324.3,576.7 L326.8,571.8 L329.2,564.4 L331.7,557.0 L333.5,560.7 L334.7,563.2 L336.0,547.2 L337.8,531.2 L339.7,533.0 L342.1,536.1 L344.0,524.4 L345.8,537.3 L347.7,538.0 L348.9,552.1 L350.7,546.0 L352.6,552.1 L354.4,544.1 L356.9,547.2 L359.3,550.9 L361.8,535.5 L363.1,539.8 L365.5,561.9 L368.0,561.9 L369.8,565.6 L371.1,576.7 L372.3,585.9 L374.8,587.1 L376.6,590.2 L379.1,595.1 L382.1,598.2 L385.8,600.2" fill="none" stroke="#a9032f" stroke-width="1.6" stroke-linejoin="round"/>
<rect x="315.9" y="500.6" width="99.9" height="100.2" fill="none" stroke="#000" stroke-width="1.75"/>
<text x="431.18" y="511.90" font-size="10.8" stroke="#000" stroke-width="0.24" textLength="32.27" lengthAdjust="spacingAndGlyphs">Isotype</text>
<line x1="484.40" y1="508.10" x2="510.40" y2="508.10" stroke="#5ea633" stroke-width="1.4"/>
<text x="431.27" y="527.00" font-size="10.8" stroke="#000" stroke-width="0.24" textLength="49.38" lengthAdjust="spacingAndGlyphs">Mouse IgG</text>
<line x1="484.40" y1="523.50" x2="510.40" y2="523.50" stroke="#1d4286" stroke-width="1.4"/>
<text x="431.27" y="542.10" font-size="10.8" stroke="#000" stroke-width="0.24" textLength="46.65" lengthAdjust="spacingAndGlyphs">PD-1 mAb</text>
<line x1="484.40" y1="538.70" x2="510.40" y2="538.70" stroke="#a9032f" stroke-width="1.4"/>
<text x="57.18" y="683.30" font-size="10.4" fill="#ab1440" stroke="#ab1440" stroke-width="0.24" textLength="90.59" lengthAdjust="spacingAndGlyphs">PD-1 mAb treatment</text>
<line x1="57.70" y1="689.60" x2="147.60" y2="689.60" stroke="#a9032f" stroke-width="1.4"/>
<path d="M151.50,689.60 L145.00,686.40 L146.43,689.60 L145.00,692.80 Z" fill="#a9032f" stroke="none" stroke-width="1.0"/>
<path d="M53.80,689.60 L60.30,686.40 L58.87,689.60 L60.30,692.80 Z" fill="#a9032f" stroke="none" stroke-width="1.0"/>
<line x1="43.40" y1="695.70" x2="43.40" y2="797.20" stroke="#000" stroke-width="1.5"/>
<line x1="42.65" y1="796.50" x2="192.50" y2="796.50" stroke="#000" stroke-width="1.5"/>
<line x1="39.20" y1="796.50" x2="43.40" y2="796.50" stroke="#000" stroke-width="1.3"/>
<text x="28.80" y="800.00" font-size="10.2" stroke="#000" stroke-width="0.15" textLength="6.24" lengthAdjust="spacingAndGlyphs">0</text>
<line x1="39.20" y1="772.24" x2="43.40" y2="772.24" stroke="#000" stroke-width="1.3"/>
<text x="28.92" y="775.74" font-size="10.2" stroke="#000" stroke-width="0.15" textLength="6.24" lengthAdjust="spacingAndGlyphs">2</text>
<line x1="39.20" y1="747.98" x2="43.40" y2="747.98" stroke="#000" stroke-width="1.3"/>
<text x="28.69" y="751.48" font-size="10.2" stroke="#000" stroke-width="0.15" textLength="6.24" lengthAdjust="spacingAndGlyphs">4</text>
<line x1="39.20" y1="723.72" x2="43.40" y2="723.72" stroke="#000" stroke-width="1.3"/>
<text x="28.85" y="727.22" font-size="10.2" stroke="#000" stroke-width="0.15" textLength="6.24" lengthAdjust="spacingAndGlyphs">6</text>
<line x1="39.20" y1="699.46" x2="43.40" y2="699.46" stroke="#000" stroke-width="1.3"/>
<text x="28.85" y="702.96" font-size="10.2" stroke="#000" stroke-width="0.15" textLength="6.24" lengthAdjust="spacingAndGlyphs">8</text>
<line x1="43.70" y1="796.50" x2="43.70" y2="800.50" stroke="#000" stroke-width="1.3"/>
<text x="36.31" y="814.50" font-size="10.2" stroke="#000" stroke-width="0.15" textLength="15.92" lengthAdjust="spacingAndGlyphs">-10</text>
<line x1="79.85" y1="796.50" x2="79.85" y2="800.50" stroke="#000" stroke-width="1.3"/>
<text x="76.79" y="814.50" font-size="10.2" stroke="#000" stroke-width="0.15" textLength="6.13" lengthAdjust="spacingAndGlyphs">0</text>
<line x1="116.00" y1="796.50" x2="116.00" y2="800.50" stroke="#000" stroke-width="1.3"/>
<text x="109.67" y="814.50" font-size="10.2" stroke="#000" stroke-width="0.15" textLength="12.25" lengthAdjust="spacingAndGlyphs">10</text>
<line x1="152.15" y1="796.50" x2="152.15" y2="800.50" stroke="#000" stroke-width="1.3"/>
<text x="145.96" y="814.50" font-size="10.2" stroke="#000" stroke-width="0.15" textLength="12.25" lengthAdjust="spacingAndGlyphs">20</text>
<line x1="188.30" y1="796.50" x2="188.30" y2="800.50" stroke="#000" stroke-width="1.3"/>
<text x="182.18" y="814.50" font-size="10.2" stroke="#000" stroke-width="0.15" textLength="12.25" lengthAdjust="spacingAndGlyphs">30</text>
<text transform="translate(21.10,769.80) rotate(-90)" x="-0.33" y="0" font-size="13.6" font-weight="bold" textLength="23.26" lengthAdjust="spacingAndGlyphs">GVHD</text>
<text transform="translate(21.10,743.08) rotate(-90)" x="-0.28" y="0" font-size="13.6" font-weight="bold" textLength="21.43" lengthAdjust="spacingAndGlyphs">score</text>
<text x="86.54" y="832.70" font-size="13.0" font-weight="bold" textLength="19.84" lengthAdjust="spacingAndGlyphs">Days</text>
<text x="108.37" y="832.70" font-size="13.0" font-weight="bold" textLength="19.91" lengthAdjust="spacingAndGlyphs">after</text>
<text x="131.50" y="832.70" font-size="13.0" font-weight="bold" textLength="17.59" lengthAdjust="spacingAndGlyphs">BMT</text>
<path d="M79.85,796.50 L97.92,757.68 L101.54,759.62 L105.16,764.23 L130.46,761.20 L155.76,731.73 L181.07,724.45" fill="none" stroke="#a9032f" stroke-width="1.6" stroke-linejoin="round"/>
<line x1="97.92" y1="756.47" x2="97.92" y2="758.90" stroke="#a9032f" stroke-width="1.25"/>
<line x1="95.72" y1="756.47" x2="100.12" y2="756.47" stroke="#a9032f" stroke-width="1.25"/>
<line x1="95.72" y1="758.90" x2="100.12" y2="758.90" stroke="#a9032f" stroke-width="1.25"/>
<line x1="101.54" y1="758.17" x2="101.54" y2="761.08" stroke="#a9032f" stroke-width="1.25"/>
<line x1="99.34" y1="758.17" x2="103.74" y2="758.17" stroke="#a9032f" stroke-width="1.25"/>
<line x1="99.34" y1="761.08" x2="103.74" y2="761.08" stroke="#a9032f" stroke-width="1.25"/>
<line x1="105.16" y1="760.47" x2="105.16" y2="767.99" stroke="#a9032f" stroke-width="1.25"/>
<line x1="102.95" y1="760.47" x2="107.36" y2="760.47" stroke="#a9032f" stroke-width="1.25"/>
<line x1="102.95" y1="767.99" x2="107.36" y2="767.99" stroke="#a9032f" stroke-width="1.25"/>
<line x1="130.46" y1="757.68" x2="130.46" y2="764.72" stroke="#a9032f" stroke-width="1.25"/>
<line x1="128.26" y1="757.68" x2="132.66" y2="757.68" stroke="#a9032f" stroke-width="1.25"/>
<line x1="128.26" y1="764.72" x2="132.66" y2="764.72" stroke="#a9032f" stroke-width="1.25"/>
<line x1="155.76" y1="722.99" x2="155.76" y2="740.46" stroke="#a9032f" stroke-width="1.25"/>
<line x1="153.56" y1="722.99" x2="157.96" y2="722.99" stroke="#a9032f" stroke-width="1.25"/>
<line x1="153.56" y1="740.46" x2="157.96" y2="740.46" stroke="#a9032f" stroke-width="1.25"/>
<line x1="181.07" y1="715.11" x2="181.07" y2="733.79" stroke="#a9032f" stroke-width="1.25"/>
<line x1="178.87" y1="715.11" x2="183.27" y2="715.11" stroke="#a9032f" stroke-width="1.25"/>
<line x1="178.87" y1="733.79" x2="183.27" y2="733.79" stroke="#a9032f" stroke-width="1.25"/>
<path d="M78.24,794.96 L79.85,798.04 L81.46,794.96 Z" fill="#a9032f" stroke="none" stroke-width="1.0"/>
<path d="M96.31,756.14 L97.92,759.22 L99.53,756.14 Z" fill="#a9032f" stroke="none" stroke-width="1.0"/>
<path d="M99.93,758.08 L101.54,761.16 L103.15,758.08 Z" fill="#a9032f" stroke="none" stroke-width="1.0"/>
<path d="M103.55,762.69 L105.16,765.77 L106.77,762.69 Z" fill="#a9032f" stroke="none" stroke-width="1.0"/>
<path d="M128.85,759.66 L130.46,762.74 L132.07,759.66 Z" fill="#a9032f" stroke="none" stroke-width="1.0"/>
<path d="M154.15,730.19 L155.76,733.27 L157.38,730.19 Z" fill="#a9032f" stroke="none" stroke-width="1.0"/>
<path d="M179.46,722.91 L181.07,725.99 L182.68,722.91 Z" fill="#a9032f" stroke="none" stroke-width="1.0"/>
<path d="M79.85,796.50 L94.31,763.02 L97.92,752.71 L101.54,741.67 L105.16,742.28 L130.46,768.24 L155.76,758.65 L181.07,760.47" fill="none" stroke="#1d4286" stroke-width="1.6" stroke-linejoin="round"/>
<line x1="97.92" y1="750.89" x2="97.92" y2="754.53" stroke="#1d4286" stroke-width="1.25"/>
<line x1="95.72" y1="750.89" x2="100.12" y2="750.89" stroke="#1d4286" stroke-width="1.25"/>
<line x1="95.72" y1="754.53" x2="100.12" y2="754.53" stroke="#1d4286" stroke-width="1.25"/>
<line x1="101.54" y1="740.94" x2="101.54" y2="742.40" stroke="#1d4286" stroke-width="1.25"/>
<line x1="99.34" y1="740.94" x2="103.74" y2="740.94" stroke="#1d4286" stroke-width="1.25"/>
<line x1="99.34" y1="742.40" x2="103.74" y2="742.40" stroke="#1d4286" stroke-width="1.25"/>
<line x1="105.16" y1="741.55" x2="105.16" y2="743.01" stroke="#1d4286" stroke-width="1.25"/>
<line x1="102.95" y1="741.55" x2="107.36" y2="741.55" stroke="#1d4286" stroke-width="1.25"/>
<line x1="102.95" y1="743.01" x2="107.36" y2="743.01" stroke="#1d4286" stroke-width="1.25"/>
<line x1="130.46" y1="763.99" x2="130.46" y2="772.48" stroke="#1d4286" stroke-width="1.25"/>
<line x1="128.26" y1="763.99" x2="132.66" y2="763.99" stroke="#1d4286" stroke-width="1.25"/>
<line x1="128.26" y1="772.48" x2="132.66" y2="772.48" stroke="#1d4286" stroke-width="1.25"/>
<line x1="155.76" y1="752.71" x2="155.76" y2="764.60" stroke="#1d4286" stroke-width="1.25"/>
<line x1="153.56" y1="752.71" x2="157.96" y2="752.71" stroke="#1d4286" stroke-width="1.25"/>
<line x1="153.56" y1="764.60" x2="157.96" y2="764.60" stroke="#1d4286" stroke-width="1.25"/>
<line x1="181.07" y1="749.56" x2="181.07" y2="771.39" stroke="#1d4286" stroke-width="1.25"/>
<line x1="178.87" y1="749.56" x2="183.27" y2="749.56" stroke="#1d4286" stroke-width="1.25"/>
<line x1="178.87" y1="771.39" x2="183.27" y2="771.39" stroke="#1d4286" stroke-width="1.25"/>
<path d="M78.24,798.04 L79.85,794.96 L81.46,798.04 Z" fill="#1d4286" stroke="none" stroke-width="1.0"/>
<path d="M92.70,764.56 L94.31,761.48 L95.92,764.56 Z" fill="#1d4286" stroke="none" stroke-width="1.0"/>
<path d="M96.31,754.25 L97.92,751.17 L99.53,754.25 Z" fill="#1d4286" stroke="none" stroke-width="1.0"/>
<path d="M99.93,743.21 L101.54,740.13 L103.15,743.21 Z" fill="#1d4286" stroke="none" stroke-width="1.0"/>
<path d="M103.55,743.82 L105.16,740.74 L106.77,743.82 Z" fill="#1d4286" stroke="none" stroke-width="1.0"/>
<path d="M128.85,769.78 L130.46,766.70 L132.07,769.78 Z" fill="#1d4286" stroke="none" stroke-width="1.0"/>
<path d="M154.15,760.19 L155.76,757.11 L157.38,760.19 Z" fill="#1d4286" stroke="none" stroke-width="1.0"/>
<path d="M179.46,762.01 L181.07,758.93 L182.68,762.01 Z" fill="#1d4286" stroke="none" stroke-width="1.0"/>
<path d="M79.85,796.50 L90.69,768.24 L94.31,767.02 L97.92,768.72 L101.54,774.54 L105.16,782.07 L130.46,786.67 L155.76,794.32 L181.07,796.26" fill="none" stroke="#5ea633" stroke-width="1.6" stroke-linejoin="round"/>
<line x1="90.69" y1="766.78" x2="90.69" y2="769.69" stroke="#5ea633" stroke-width="1.25"/>
<line x1="88.49" y1="766.78" x2="92.89" y2="766.78" stroke="#5ea633" stroke-width="1.25"/>
<line x1="88.49" y1="769.69" x2="92.89" y2="769.69" stroke="#5ea633" stroke-width="1.25"/>
<line x1="94.31" y1="764.60" x2="94.31" y2="769.45" stroke="#5ea633" stroke-width="1.25"/>
<line x1="92.11" y1="764.60" x2="96.51" y2="764.60" stroke="#5ea633" stroke-width="1.25"/>
<line x1="92.11" y1="769.45" x2="96.51" y2="769.45" stroke="#5ea633" stroke-width="1.25"/>
<line x1="97.92" y1="765.33" x2="97.92" y2="772.12" stroke="#5ea633" stroke-width="1.25"/>
<line x1="95.72" y1="765.33" x2="100.12" y2="765.33" stroke="#5ea633" stroke-width="1.25"/>
<line x1="95.72" y1="772.12" x2="100.12" y2="772.12" stroke="#5ea633" stroke-width="1.25"/>
<line x1="101.54" y1="769.69" x2="101.54" y2="779.40" stroke="#5ea633" stroke-width="1.25"/>
<line x1="99.34" y1="769.69" x2="103.74" y2="769.69" stroke="#5ea633" stroke-width="1.25"/>
<line x1="99.34" y1="779.40" x2="103.74" y2="779.40" stroke="#5ea633" stroke-width="1.25"/>
<line x1="105.16" y1="779.03" x2="105.16" y2="785.10" stroke="#5ea633" stroke-width="1.25"/>
<line x1="102.95" y1="779.03" x2="107.36" y2="779.03" stroke="#5ea633" stroke-width="1.25"/>
<line x1="102.95" y1="785.10" x2="107.36" y2="785.10" stroke="#5ea633" stroke-width="1.25"/>
<line x1="130.46" y1="781.22" x2="130.46" y2="792.13" stroke="#5ea633" stroke-width="1.25"/>
<line x1="128.26" y1="781.22" x2="132.66" y2="781.22" stroke="#5ea633" stroke-width="1.25"/>
<line x1="128.26" y1="792.13" x2="132.66" y2="792.13" stroke="#5ea633" stroke-width="1.25"/>
<line x1="155.76" y1="793.10" x2="155.76" y2="795.53" stroke="#5ea633" stroke-width="1.25"/>
<line x1="153.56" y1="793.10" x2="157.96" y2="793.10" stroke="#5ea633" stroke-width="1.25"/>
<line x1="153.56" y1="795.53" x2="157.96" y2="795.53" stroke="#5ea633" stroke-width="1.25"/>
<circle cx="79.85" cy="796.50" r="1.7" fill="#5ea633"/>
<circle cx="90.69" cy="768.24" r="1.7" fill="#5ea633"/>
<circle cx="94.31" cy="767.02" r="1.7" fill="#5ea633"/>
<circle cx="97.92" cy="768.72" r="1.7" fill="#5ea633"/>
<circle cx="101.54" cy="774.54" r="1.7" fill="#5ea633"/>
<circle cx="105.16" cy="782.07" r="1.7" fill="#5ea633"/>
<circle cx="130.46" cy="786.67" r="1.7" fill="#5ea633"/>
<circle cx="155.76" cy="794.32" r="1.7" fill="#5ea633"/>
<circle cx="181.07" cy="796.26" r="1.7" fill="#5ea633"/>
<polygon points="98.85,730.75 99.36,731.79 100.51,731.96 99.68,732.77 99.88,733.92 98.85,733.38 97.82,733.92 98.02,732.77 97.19,731.96 98.34,731.79" fill="#000" stroke="#000" stroke-width="0.45" stroke-linejoin="round"/>
<polygon points="102.40,730.75 102.91,731.79 104.06,731.96 103.23,732.77 103.43,733.92 102.40,733.38 101.37,733.92 101.57,732.77 100.74,731.96 101.89,731.79" fill="#000" stroke="#000" stroke-width="0.45" stroke-linejoin="round"/>
<polygon points="105.95,730.75 106.46,731.79 107.61,731.96 106.78,732.77 106.98,733.92 105.95,733.38 104.92,733.92 105.12,732.77 104.29,731.96 105.44,731.79" fill="#000" stroke="#000" stroke-width="0.45" stroke-linejoin="round"/>
<polygon points="97.15,737.05 97.66,738.09 98.81,738.26 97.98,739.07 98.18,740.22 97.15,739.67 96.12,740.22 96.32,739.07 95.49,738.26 96.64,738.09" fill="#000" stroke="#000" stroke-width="0.45" stroke-linejoin="round"/>
<polygon points="106.35,736.05 106.86,737.09 108.01,737.26 107.18,738.07 107.38,739.22 106.35,738.67 105.32,739.22 105.52,738.07 104.69,737.26 105.84,737.09" fill="#000" stroke="#000" stroke-width="0.45" stroke-linejoin="round"/>
<polygon points="110.02,736.05 110.53,737.09 111.68,737.26 110.85,738.07 111.05,739.22 110.02,738.67 108.99,739.22 109.18,738.07 108.35,737.26 109.50,737.09" fill="#000" stroke="#000" stroke-width="0.45" stroke-linejoin="round"/>
<polygon points="113.68,736.05 114.20,737.09 115.35,737.26 114.52,738.07 114.71,739.22 113.68,738.67 112.65,739.22 112.85,738.07 112.02,737.26 113.17,737.09" fill="#000" stroke="#000" stroke-width="0.45" stroke-linejoin="round"/>
<polygon points="117.35,736.05 117.86,737.09 119.01,737.26 118.18,738.07 118.38,739.22 117.35,738.67 116.32,739.22 116.52,738.07 115.69,737.26 116.84,737.09" fill="#000" stroke="#000" stroke-width="0.45" stroke-linejoin="round"/>
<line x1="191.00" y1="731.00" x2="191.00" y2="756.70" stroke="#000" stroke-width="1.3"/>
<path d="M191.00,760.90 L187.70,753.90 L191.00,755.44 L194.30,753.90 Z" fill="#000" stroke="none" stroke-width="1.0"/>
<path d="M191.00,726.80 L187.70,733.80 L191.00,732.26 L194.30,733.80 Z" fill="#000" stroke="none" stroke-width="1.0"/>
<polygon points="195.30,743.30 195.71,744.13 196.63,744.27 195.97,744.92 196.12,745.83 195.30,745.40 194.48,745.83 194.63,744.92 193.97,744.27 194.89,744.13" fill="#000" stroke="#000" stroke-width="0.45" stroke-linejoin="round"/>
<line x1="12.20" y1="854.40" x2="22.60" y2="854.40" stroke="#5ea633" stroke-width="1.7"/>
<circle cx="17.40" cy="854.40" r="2.0" fill="#5ea633"/>
<text x="26.85" y="857.70" font-size="10.2" stroke="#000" stroke-width="0.24" textLength="46.21" lengthAdjust="spacingAndGlyphs">Syngeneic</text>
<line x1="86.20" y1="854.40" x2="96.60" y2="854.40" stroke="#1d4286" stroke-width="1.7"/>
<path d="M89.50,855.70 L91.40,852.50 L93.30,855.70 Z" fill="#1d4286" stroke="none" stroke-width="1.0"/>
<text x="100.66" y="857.70" font-size="10.2" stroke="#000" stroke-width="0.24" textLength="50.11" lengthAdjust="spacingAndGlyphs">Mouse IgG</text>
<line x1="162.70" y1="854.40" x2="173.20" y2="854.40" stroke="#a9032f" stroke-width="1.7"/>
<path d="M166.05,853.10 L167.95,856.30 L169.85,853.10 Z" fill="#a9032f" stroke="none" stroke-width="1.0"/>
<text x="177.27" y="857.70" font-size="10.2" stroke="#000" stroke-width="0.24" textLength="46.65" lengthAdjust="spacingAndGlyphs">PD-1 mAb</text>
<text x="302.68" y="686.40" font-size="10.4" fill="#ab1440" stroke="#ab1440" stroke-width="0.24" textLength="91.19" lengthAdjust="spacingAndGlyphs">PD-1 mAb treatment</text>
<line x1="318.90" y1="692.90" x2="331.70" y2="692.90" stroke="#a9032f" stroke-width="1.4"/>
<path d="M335.60,692.90 L329.10,689.70 L330.53,692.90 L329.10,696.10 Z" fill="#a9032f" stroke="none" stroke-width="1.0"/>
<path d="M315.00,692.90 L321.50,689.70 L320.07,692.90 L321.50,696.10 Z" fill="#a9032f" stroke="none" stroke-width="1.0"/>
<line x1="314.30" y1="695.70" x2="314.30" y2="797.20" stroke="#000" stroke-width="1.5"/>
<line x1="313.55" y1="796.50" x2="462.00" y2="796.50" stroke="#000" stroke-width="1.5"/>
<line x1="310.10" y1="796.50" x2="314.30" y2="796.50" stroke="#000" stroke-width="1.3"/>
<text x="299.80" y="800.00" font-size="10.2" stroke="#000" stroke-width="0.15" textLength="6.24" lengthAdjust="spacingAndGlyphs">0</text>
<line x1="310.10" y1="772.44" x2="314.30" y2="772.44" stroke="#000" stroke-width="1.3"/>
<text x="299.92" y="775.94" font-size="10.2" stroke="#000" stroke-width="0.15" textLength="6.24" lengthAdjust="spacingAndGlyphs">2</text>
<line x1="310.10" y1="748.38" x2="314.30" y2="748.38" stroke="#000" stroke-width="1.3"/>
<text x="299.69" y="751.88" font-size="10.2" stroke="#000" stroke-width="0.15" textLength="6.24" lengthAdjust="spacingAndGlyphs">4</text>
<line x1="310.10" y1="724.32" x2="314.30" y2="724.32" stroke="#000" stroke-width="1.3"/>
<text x="299.85" y="727.82" font-size="10.2" stroke="#000" stroke-width="0.15" textLength="6.24" lengthAdjust="spacingAndGlyphs">6</text>
<line x1="310.10" y1="700.26" x2="314.30" y2="700.26" stroke="#000" stroke-width="1.3"/>
<text x="299.85" y="703.76" font-size="10.2" stroke="#000" stroke-width="0.15" textLength="6.24" lengthAdjust="spacingAndGlyphs">8</text>
<line x1="313.80" y1="796.50" x2="313.80" y2="800.50" stroke="#000" stroke-width="1.3"/>
<text x="306.41" y="814.50" font-size="10.2" stroke="#000" stroke-width="0.15" textLength="15.92" lengthAdjust="spacingAndGlyphs">-10</text>
<line x1="349.90" y1="796.50" x2="349.90" y2="800.50" stroke="#000" stroke-width="1.3"/>
<text x="346.84" y="814.50" font-size="10.2" stroke="#000" stroke-width="0.15" textLength="6.13" lengthAdjust="spacingAndGlyphs">0</text>
<line x1="386.00" y1="796.50" x2="386.00" y2="800.50" stroke="#000" stroke-width="1.3"/>
<text x="379.67" y="814.50" font-size="10.2" stroke="#000" stroke-width="0.15" textLength="12.25" lengthAdjust="spacingAndGlyphs">10</text>
<line x1="422.10" y1="796.50" x2="422.10" y2="800.50" stroke="#000" stroke-width="1.3"/>
<text x="415.91" y="814.50" font-size="10.2" stroke="#000" stroke-width="0.15" textLength="12.25" lengthAdjust="spacingAndGlyphs">20</text>
<line x1="458.20" y1="796.50" x2="458.20" y2="800.50" stroke="#000" stroke-width="1.3"/>
<text x="452.08" y="814.50" font-size="10.2" stroke="#000" stroke-width="0.15" textLength="12.25" lengthAdjust="spacingAndGlyphs">30</text>
<text transform="translate(292.10,769.80) rotate(-90)" x="-0.33" y="0" font-size="13.6" font-weight="bold" textLength="23.26" lengthAdjust="spacingAndGlyphs">GVHD</text>
<text transform="translate(292.10,743.08) rotate(-90)" x="-0.28" y="0" font-size="13.6" font-weight="bold" textLength="21.43" lengthAdjust="spacingAndGlyphs">score</text>
<text x="357.54" y="832.70" font-size="13.0" font-weight="bold" textLength="19.84" lengthAdjust="spacingAndGlyphs">Days</text>
<text x="379.37" y="832.70" font-size="13.0" font-weight="bold" textLength="19.91" lengthAdjust="spacingAndGlyphs">after</text>
<text x="402.50" y="832.70" font-size="13.0" font-weight="bold" textLength="17.59" lengthAdjust="spacingAndGlyphs">BMT</text>
<path d="M349.90,796.50 L364.34,762.46 L367.95,761.85 L371.56,759.45 L375.17,762.46 L400.44,747.78 L425.71,737.07 L450.98,732.74" fill="none" stroke="#a9032f" stroke-width="1.6" stroke-linejoin="round"/>
<line x1="364.34" y1="759.45" x2="364.34" y2="765.46" stroke="#a9032f" stroke-width="1.25"/>
<line x1="362.14" y1="759.45" x2="366.54" y2="759.45" stroke="#a9032f" stroke-width="1.25"/>
<line x1="362.14" y1="765.46" x2="366.54" y2="765.46" stroke="#a9032f" stroke-width="1.25"/>
<line x1="367.95" y1="758.24" x2="367.95" y2="765.46" stroke="#a9032f" stroke-width="1.25"/>
<line x1="365.75" y1="758.24" x2="370.15" y2="758.24" stroke="#a9032f" stroke-width="1.25"/>
<line x1="365.75" y1="765.46" x2="370.15" y2="765.46" stroke="#a9032f" stroke-width="1.25"/>
<line x1="371.56" y1="753.79" x2="371.56" y2="765.10" stroke="#a9032f" stroke-width="1.25"/>
<line x1="369.36" y1="753.79" x2="373.76" y2="753.79" stroke="#a9032f" stroke-width="1.25"/>
<line x1="369.36" y1="765.10" x2="373.76" y2="765.10" stroke="#a9032f" stroke-width="1.25"/>
<line x1="375.17" y1="757.76" x2="375.17" y2="767.15" stroke="#a9032f" stroke-width="1.25"/>
<line x1="372.97" y1="757.76" x2="377.37" y2="757.76" stroke="#a9032f" stroke-width="1.25"/>
<line x1="372.97" y1="767.15" x2="377.37" y2="767.15" stroke="#a9032f" stroke-width="1.25"/>
<line x1="400.44" y1="744.05" x2="400.44" y2="751.51" stroke="#a9032f" stroke-width="1.25"/>
<line x1="398.24" y1="744.05" x2="402.64" y2="744.05" stroke="#a9032f" stroke-width="1.25"/>
<line x1="398.24" y1="751.51" x2="402.64" y2="751.51" stroke="#a9032f" stroke-width="1.25"/>
<line x1="425.71" y1="725.04" x2="425.71" y2="749.10" stroke="#a9032f" stroke-width="1.25"/>
<line x1="423.51" y1="725.04" x2="427.91" y2="725.04" stroke="#a9032f" stroke-width="1.25"/>
<line x1="423.51" y1="749.10" x2="427.91" y2="749.10" stroke="#a9032f" stroke-width="1.25"/>
<line x1="450.98" y1="713.49" x2="450.98" y2="751.99" stroke="#a9032f" stroke-width="1.25"/>
<line x1="448.78" y1="713.49" x2="453.18" y2="713.49" stroke="#a9032f" stroke-width="1.25"/>
<line x1="448.78" y1="751.99" x2="453.18" y2="751.99" stroke="#a9032f" stroke-width="1.25"/>
<path d="M348.29,794.96 L349.90,798.04 L351.51,794.96 Z" fill="#a9032f" stroke="none" stroke-width="1.0"/>
<path d="M362.73,760.92 L364.34,764.00 L365.95,760.92 Z" fill="#a9032f" stroke="none" stroke-width="1.0"/>
<path d="M366.34,760.31 L367.95,763.39 L369.56,760.31 Z" fill="#a9032f" stroke="none" stroke-width="1.0"/>
<path d="M369.95,757.91 L371.56,760.99 L373.17,757.91 Z" fill="#a9032f" stroke="none" stroke-width="1.0"/>
<path d="M373.56,760.92 L375.17,764.00 L376.78,760.92 Z" fill="#a9032f" stroke="none" stroke-width="1.0"/>
<path d="M398.83,746.24 L400.44,749.32 L402.05,746.24 Z" fill="#a9032f" stroke="none" stroke-width="1.0"/>
<path d="M424.10,735.53 L425.71,738.61 L427.32,735.53 Z" fill="#a9032f" stroke="none" stroke-width="1.0"/>
<path d="M449.37,731.20 L450.98,734.28 L452.59,731.20 Z" fill="#a9032f" stroke="none" stroke-width="1.0"/>
<path d="M349.90,796.50 L367.95,752.71 L371.56,742.00 L375.17,742.85 L400.44,767.99 L425.71,758.36 L450.98,760.77" fill="none" stroke="#1d4286" stroke-width="1.6" stroke-linejoin="round"/>
<line x1="367.95" y1="751.51" x2="367.95" y2="753.91" stroke="#1d4286" stroke-width="1.25"/>
<line x1="365.75" y1="751.51" x2="370.15" y2="751.51" stroke="#1d4286" stroke-width="1.25"/>
<line x1="365.75" y1="753.91" x2="370.15" y2="753.91" stroke="#1d4286" stroke-width="1.25"/>
<line x1="371.56" y1="741.04" x2="371.56" y2="742.97" stroke="#1d4286" stroke-width="1.25"/>
<line x1="369.36" y1="741.04" x2="373.76" y2="741.04" stroke="#1d4286" stroke-width="1.25"/>
<line x1="369.36" y1="742.97" x2="373.76" y2="742.97" stroke="#1d4286" stroke-width="1.25"/>
<line x1="375.17" y1="741.88" x2="375.17" y2="743.81" stroke="#1d4286" stroke-width="1.25"/>
<line x1="372.97" y1="741.88" x2="377.37" y2="741.88" stroke="#1d4286" stroke-width="1.25"/>
<line x1="372.97" y1="743.81" x2="377.37" y2="743.81" stroke="#1d4286" stroke-width="1.25"/>
<line x1="400.44" y1="764.02" x2="400.44" y2="771.96" stroke="#1d4286" stroke-width="1.25"/>
<line x1="398.24" y1="764.02" x2="402.64" y2="764.02" stroke="#1d4286" stroke-width="1.25"/>
<line x1="398.24" y1="771.96" x2="402.64" y2="771.96" stroke="#1d4286" stroke-width="1.25"/>
<line x1="425.71" y1="752.59" x2="425.71" y2="764.14" stroke="#1d4286" stroke-width="1.25"/>
<line x1="423.51" y1="752.59" x2="427.91" y2="752.59" stroke="#1d4286" stroke-width="1.25"/>
<line x1="423.51" y1="764.14" x2="427.91" y2="764.14" stroke="#1d4286" stroke-width="1.25"/>
<line x1="450.98" y1="749.70" x2="450.98" y2="771.84" stroke="#1d4286" stroke-width="1.25"/>
<line x1="448.78" y1="749.70" x2="453.18" y2="749.70" stroke="#1d4286" stroke-width="1.25"/>
<line x1="448.78" y1="771.84" x2="453.18" y2="771.84" stroke="#1d4286" stroke-width="1.25"/>
<path d="M348.29,798.04 L349.90,794.96 L351.51,798.04 Z" fill="#1d4286" stroke="none" stroke-width="1.0"/>
<path d="M366.34,754.25 L367.95,751.17 L369.56,754.25 Z" fill="#1d4286" stroke="none" stroke-width="1.0"/>
<path d="M369.95,743.54 L371.56,740.46 L373.17,743.54 Z" fill="#1d4286" stroke="none" stroke-width="1.0"/>
<path d="M373.56,744.39 L375.17,741.31 L376.78,744.39 Z" fill="#1d4286" stroke="none" stroke-width="1.0"/>
<path d="M398.83,769.53 L400.44,766.45 L402.05,769.53 Z" fill="#1d4286" stroke="none" stroke-width="1.0"/>
<path d="M424.10,759.90 L425.71,756.82 L427.32,759.90 Z" fill="#1d4286" stroke="none" stroke-width="1.0"/>
<path d="M449.37,762.31 L450.98,759.23 L452.59,762.31 Z" fill="#1d4286" stroke="none" stroke-width="1.0"/>
<path d="M349.90,796.50 L360.73,768.35 L364.34,766.42 L367.95,768.35 L371.56,775.21 L375.17,782.18 L400.44,786.39 L425.71,794.94 L450.98,796.50" fill="none" stroke="#5ea633" stroke-width="1.6" stroke-linejoin="round"/>
<line x1="360.73" y1="766.55" x2="360.73" y2="770.15" stroke="#5ea633" stroke-width="1.25"/>
<line x1="358.53" y1="766.55" x2="362.93" y2="766.55" stroke="#5ea633" stroke-width="1.25"/>
<line x1="358.53" y1="770.15" x2="362.93" y2="770.15" stroke="#5ea633" stroke-width="1.25"/>
<line x1="364.34" y1="764.02" x2="364.34" y2="768.83" stroke="#5ea633" stroke-width="1.25"/>
<line x1="362.14" y1="764.02" x2="366.54" y2="764.02" stroke="#5ea633" stroke-width="1.25"/>
<line x1="362.14" y1="768.83" x2="366.54" y2="768.83" stroke="#5ea633" stroke-width="1.25"/>
<line x1="367.95" y1="765.94" x2="367.95" y2="770.76" stroke="#5ea633" stroke-width="1.25"/>
<line x1="365.75" y1="765.94" x2="370.15" y2="765.94" stroke="#5ea633" stroke-width="1.25"/>
<line x1="365.75" y1="770.76" x2="370.15" y2="770.76" stroke="#5ea633" stroke-width="1.25"/>
<line x1="371.56" y1="771.60" x2="371.56" y2="778.82" stroke="#5ea633" stroke-width="1.25"/>
<line x1="369.36" y1="771.60" x2="373.76" y2="771.60" stroke="#5ea633" stroke-width="1.25"/>
<line x1="369.36" y1="778.82" x2="373.76" y2="778.82" stroke="#5ea633" stroke-width="1.25"/>
<line x1="375.17" y1="779.18" x2="375.17" y2="785.19" stroke="#5ea633" stroke-width="1.25"/>
<line x1="372.97" y1="779.18" x2="377.37" y2="779.18" stroke="#5ea633" stroke-width="1.25"/>
<line x1="372.97" y1="785.19" x2="377.37" y2="785.19" stroke="#5ea633" stroke-width="1.25"/>
<line x1="400.44" y1="781.34" x2="400.44" y2="791.45" stroke="#5ea633" stroke-width="1.25"/>
<line x1="398.24" y1="781.34" x2="402.64" y2="781.34" stroke="#5ea633" stroke-width="1.25"/>
<line x1="398.24" y1="791.45" x2="402.64" y2="791.45" stroke="#5ea633" stroke-width="1.25"/>
<line x1="425.71" y1="793.73" x2="425.71" y2="796.14" stroke="#5ea633" stroke-width="1.25"/>
<line x1="423.51" y1="793.73" x2="427.91" y2="793.73" stroke="#5ea633" stroke-width="1.25"/>
<line x1="423.51" y1="796.14" x2="427.91" y2="796.14" stroke="#5ea633" stroke-width="1.25"/>
<circle cx="349.90" cy="796.50" r="1.7" fill="#5ea633"/>
<circle cx="360.73" cy="768.35" r="1.7" fill="#5ea633"/>
<circle cx="364.34" cy="766.42" r="1.7" fill="#5ea633"/>
<circle cx="367.95" cy="768.35" r="1.7" fill="#5ea633"/>
<circle cx="371.56" cy="775.21" r="1.7" fill="#5ea633"/>
<circle cx="375.17" cy="782.18" r="1.7" fill="#5ea633"/>
<circle cx="400.44" cy="786.39" r="1.7" fill="#5ea633"/>
<circle cx="425.71" cy="794.94" r="1.7" fill="#5ea633"/>
<circle cx="450.98" cy="796.50" r="1.7" fill="#5ea633"/>
<polygon points="364.60,743.45 365.11,744.49 366.26,744.66 365.43,745.47 365.63,746.62 364.60,746.08 363.57,746.62 363.77,745.47 362.94,744.66 364.09,744.49" fill="#000" stroke="#000" stroke-width="0.45" stroke-linejoin="round"/>
<polygon points="369.85,733.45 370.36,734.49 371.51,734.66 370.68,735.47 370.88,736.62 369.85,736.08 368.82,736.62 369.02,735.47 368.19,734.66 369.34,734.49" fill="#000" stroke="#000" stroke-width="0.45" stroke-linejoin="round"/>
<polygon points="373.05,733.45 373.56,734.49 374.71,734.66 373.88,735.47 374.08,736.62 373.05,736.08 372.02,736.62 372.22,735.47 371.39,734.66 372.54,734.49" fill="#000" stroke="#000" stroke-width="0.45" stroke-linejoin="round"/>
<polygon points="377.35,737.05 377.86,738.09 379.01,738.26 378.18,739.07 378.38,740.22 377.35,739.67 376.32,740.22 376.52,739.07 375.69,738.26 376.84,738.09" fill="#000" stroke="#000" stroke-width="0.45" stroke-linejoin="round"/>
<polygon points="380.80,737.05 381.31,738.09 382.46,738.26 381.63,739.07 381.83,740.22 380.80,739.67 379.77,740.22 379.97,739.07 379.14,738.26 380.29,738.09" fill="#000" stroke="#000" stroke-width="0.45" stroke-linejoin="round"/>
<polygon points="384.25,737.05 384.76,738.09 385.91,738.26 385.08,739.07 385.28,740.22 384.25,739.67 383.22,740.22 383.42,739.07 382.59,738.26 383.74,738.09" fill="#000" stroke="#000" stroke-width="0.45" stroke-linejoin="round"/>
<line x1="461.20" y1="736.90" x2="461.20" y2="760.80" stroke="#000" stroke-width="1.3"/>
<path d="M461.20,765.00 L457.90,758.00 L461.20,759.54 L464.50,758.00 Z" fill="#000" stroke="none" stroke-width="1.0"/>
<path d="M461.20,732.70 L457.90,739.70 L461.20,738.16 L464.50,739.70 Z" fill="#000" stroke="none" stroke-width="1.0"/>
<polygon points="465.60,749.20 466.01,750.03 466.93,750.17 466.27,750.82 466.42,751.73 465.60,751.30 464.78,751.73 464.93,750.82 464.27,750.17 465.19,750.03" fill="#000" stroke="#000" stroke-width="0.45" stroke-linejoin="round"/>
<line x1="282.80" y1="854.40" x2="293.20" y2="854.40" stroke="#5ea633" stroke-width="1.7"/>
<circle cx="288.00" cy="854.40" r="2.0" fill="#5ea633"/>
<text x="297.55" y="857.70" font-size="10.2" stroke="#000" stroke-width="0.24" textLength="46.21" lengthAdjust="spacingAndGlyphs">Syngeneic</text>
<line x1="356.90" y1="854.40" x2="367.30" y2="854.40" stroke="#1d4286" stroke-width="1.7"/>
<path d="M360.20,855.70 L362.10,852.50 L364.00,855.70 Z" fill="#1d4286" stroke="none" stroke-width="1.0"/>
<text x="371.36" y="857.70" font-size="10.2" stroke="#000" stroke-width="0.24" textLength="49.90" lengthAdjust="spacingAndGlyphs">Mouse IgG</text>
<line x1="433.40" y1="854.40" x2="444.00" y2="854.40" stroke="#a9032f" stroke-width="1.7"/>
<path d="M436.80,853.10 L438.70,856.30 L440.60,853.10 Z" fill="#a9032f" stroke="none" stroke-width="1.0"/>
<text x="447.96" y="857.70" font-size="10.2" stroke="#000" stroke-width="0.24" textLength="47.27" lengthAdjust="spacingAndGlyphs">PD-1 mAb</text>
<text x="405.84" y="782.10" font-size="10.3" stroke="#000" stroke-width="0.24" textLength="76.76" lengthAdjust="spacingAndGlyphs">p&lt;0.05 on day14</text>
<text x="9.81" y="23.50" font-size="16.3" font-weight="bold" stroke="#000" stroke-width="0.4" textLength="11.30" lengthAdjust="spacingAndGlyphs">A</text>
<text x="260.64" y="23.20" font-size="16.3" font-weight="bold" stroke="#000" stroke-width="0.4" textLength="11.49" lengthAdjust="spacingAndGlyphs">B</text>
<text x="9.76" y="235.70" font-size="16.3" font-weight="bold" stroke="#000" stroke-width="0.4" textLength="11.27" lengthAdjust="spacingAndGlyphs">C</text>
<text x="260.58" y="235.80" font-size="16.3" font-weight="bold" stroke="#000" stroke-width="0.4" textLength="12.13" lengthAdjust="spacingAndGlyphs">D</text>
<text x="9.53" y="465.80" font-size="16.3" font-weight="bold" stroke="#000" stroke-width="0.4" textLength="10.70" lengthAdjust="spacingAndGlyphs">E</text>
<text x="260.30" y="465.80" font-size="16.3" font-weight="bold" stroke="#000" stroke-width="0.4" textLength="10.96" lengthAdjust="spacingAndGlyphs">F</text>
<text x="9.88" y="670.10" font-size="16.3" font-weight="bold" stroke="#000" stroke-width="0.4" textLength="11.76" lengthAdjust="spacingAndGlyphs">G</text>
<text x="260.78" y="670.00" font-size="16.3" font-weight="bold" stroke="#000" stroke-width="0.4" textLength="12.04" lengthAdjust="spacingAndGlyphs">H</text>
<rect x="0" y="0" width="1.7" height="870" fill="#000"/>
<rect x="0" y="0" width="520" height="1.7" fill="#000"/>
<rect x="517.9" y="0" width="2.1" height="870" fill="#000"/>
<rect x="0" y="867.7" width="520" height="2.3" fill="#000"/>
</svg>
</body></html>
